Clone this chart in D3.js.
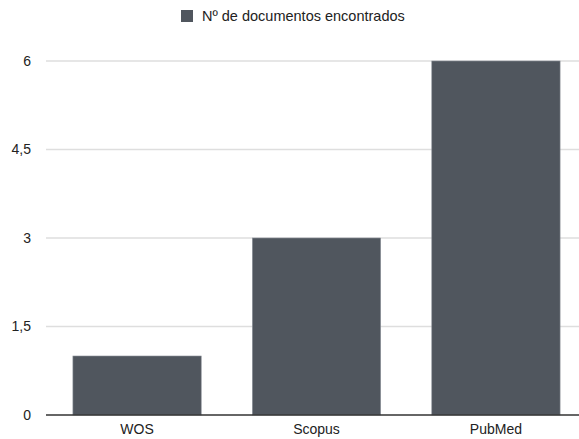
<!DOCTYPE html>
<html>
<head>
<meta charset="utf-8">
<script src="https://cdn.jsdelivr.net/npm/d3@7"></script>
<style>
  body { margin: 0; background: #fff; }
  svg text { font-family: "Liberation Sans", Arial, Helvetica, sans-serif; }
</style>
</head>
<body>
<svg id="chart"></svg>
<script>
const categories = ["WOS", "Scopus", "PubMed"];
const values = [1, 3, 6];
const seriesName = "Nº de documentos encontrados";
const yTicks = [0, 1.5, 3, 4.5, 6];

const W = 579, H = 439;
const margin = { top: 61, right: 0, bottom: 24, left: 46 };
const barColor = "#50565e";

const svg = d3.select("#chart").attr("width", W).attr("height", H);

const x = d3.scaleBand()
    .domain(categories)
    .range([margin.left, 587])
    .paddingInner(0.285)
    .paddingOuter(0.15);

const y = d3.scaleLinear()
    .domain([0, 6])
    .range([H - margin.bottom, margin.top]);

// gridlines
svg.append("g")
    .selectAll("line")
    .data(yTicks.filter(d => d > 0))
    .enter().append("line")
    .attr("x1", margin.left)
    .attr("x2", W)
    .attr("y1", d => y(d))
    .attr("y2", d => y(d))
    .attr("stroke", "#dedede")
    .attr("stroke-width", 1.3);

// y tick labels
svg.append("g")
    .selectAll("text")
    .data(yTicks)
    .enter().append("text")
    .attr("x", 31)
    .attr("y", d => y(d))
    .attr("dy", "0.35em")
    .attr("text-anchor", "end")
    .attr("font-size", 14)
    .attr("fill", "#222")
    .text(d => String(d).replace(".", ","));

// bars
svg.append("g")
    .selectAll("rect")
    .data(values)
    .enter().append("rect")
    .attr("x", (d, i) => x(categories[i]))
    .attr("y", d => y(d))
    .attr("width", x.bandwidth())
    .attr("height", d => y(0) - y(d))
    .attr("fill", barColor)
    .attr("stroke", "#8a9098")
    .attr("stroke-width", 0.6);

// baseline
svg.append("line")
    .attr("x1", margin.left)
    .attr("x2", W)
    .attr("y1", y(0))
    .attr("y2", y(0))
    .attr("stroke", "#333")
    .attr("stroke-width", 1.3);

// x labels
svg.append("g")
    .selectAll("text")
    .data(categories)
    .enter().append("text")
    .attr("x", d => x(d) + x.bandwidth() / 2)
    .attr("y", H - 5)
    .attr("text-anchor", "middle")
    .attr("font-size", 14)
    .attr("fill", "#222")
    .text(d => d);

// legend
const legend = svg.append("g").attr("transform", "translate(181,10)");
legend.append("rect")
    .attr("width", 12)
    .attr("height", 12)
    .attr("fill", barColor);
legend.append("text")
    .attr("x", 21)
    .attr("y", 6)
    .attr("dy", "0.35em")
    .attr("font-size", 14.5)
    .attr("fill", "#222")
    .text(seriesName);
</script>
</body>
</html>
